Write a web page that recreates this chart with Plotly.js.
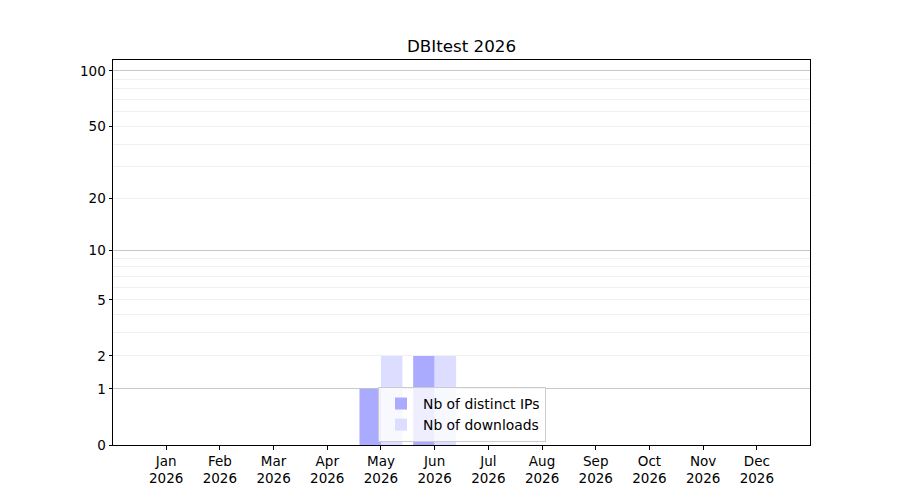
<!DOCTYPE html>
<html>
<head>
<meta charset="utf-8">
<script src="https://cdn.plot.ly/plotly-3.0.1.min.js"></script>
<style>html,body{margin:0;padding:0;background:#fff;}#chart{width:900px;height:500px;}</style>
</head>
<body>
<div id="chart"></div>
<script>
// ---- data ----
const months = ["Jan","Feb","Mar","Apr","May","Jun","Jul","Aug","Sep","Oct","Nov","Dec"];
const year = "2026";
const distinctIPs = [0,0,0,0,1,2,0,0,0,0,0,0];
const downloads   = [0,0,0,0,2,2,0,0,0,0,0,0];
const yTickValues = [0,1,2,5,10,20,50,100];
const yMajorGrid  = [1,10,100];
const yMinorGrid  = [2,3,4,5,6,7,8,9,20,30,40,50,60,70,80,90];

// log(1+v) scale: plot on log axis with bars from base 1
const xIdx = months.map((m,i)=>i);
const shift = v => v + 1;

const font = {family:"DejaVu Sans, sans-serif", size:13.5, color:"#000"};

const traces = [
  {type:"bar", name:"Nb of distinct IPs", x:xIdx, y:distinctIPs, base:xIdx.map(()=>1),
   marker:{color:"#aaaaff", line:{width:0}}, hoverinfo:"skip"},
  {type:"bar", name:"Nb of downloads", x:xIdx, y:downloads, base:xIdx.map(()=>1),
   marker:{color:"#ddddff", line:{width:0}}, hoverinfo:"skip"},
  {type:"scatter", mode:"markers", x:[null], y:[null], yaxis:"y2", showlegend:false, hoverinfo:"skip"}
];

const yRange = [0, 2.063];

const layout = {
  width:900, height:500,
  paper_bgcolor:"#fff", plot_bgcolor:"#fff",
  margin:{l:113, r:90, t:60, b:55},
  font:font,
  title:{text:"DBItest 2026", font:{family:"DejaVu Sans, sans-serif", size:16.7, color:"#000"},
         x:0.5, xref:"paper", xanchor:"center", y:1-46/500, yref:"container", yanchor:"middle"},
  barmode:"group", bargap:0.2, bargroupgap:0,
  showlegend:true,
  legend:{x:(378-113)/697, y:(445-387)/385, xanchor:"left", yanchor:"top",
          bgcolor:"rgba(255,255,255,0.8)", bordercolor:"#cccccc", borderwidth:1,
          itemwidth:34,
          font:{family:"DejaVu Sans, sans-serif", size:13.9, color:"#000"}, tracegroupgap:0},
  xaxis:{range:[-0.99, 11.99], tickmode:"array", tickvals:xIdx,
         ticktext:months.map(m=>m+"<br>"+year),
         ticks:"outside", ticklen:3.5, tickcolor:"#000", showgrid:false, zeroline:false,
         showline:true, linecolor:"#000", linewidth:1, mirror:true, fixedrange:true},
  yaxis:{type:"log", range:yRange, tickmode:"array",
         tickvals:yTickValues.map(shift), ticktext:yTickValues.map(String),
         ticks:"outside", ticklen:3.5, tickcolor:"#000", showgrid:false, zeroline:false,
         showline:true, linecolor:"#000", linewidth:1, mirror:true,
         minor:{tickmode:"array", tickvals:yMinorGrid.map(shift), showgrid:true,
                gridcolor:"#ececec", gridwidth:0.8, ticks:""}},
  yaxis2:{type:"log", range:yRange, overlaying:"y", tickmode:"array",
          tickvals:yMajorGrid.map(shift), showticklabels:false, ticks:"",
          showgrid:true, gridcolor:"#c8c8c8", gridwidth:1, zeroline:false, showline:false}
};

Plotly.newPlot("chart", traces, layout, {staticPlot:true, displayModeBar:false});
</script>
</body>
</html>
